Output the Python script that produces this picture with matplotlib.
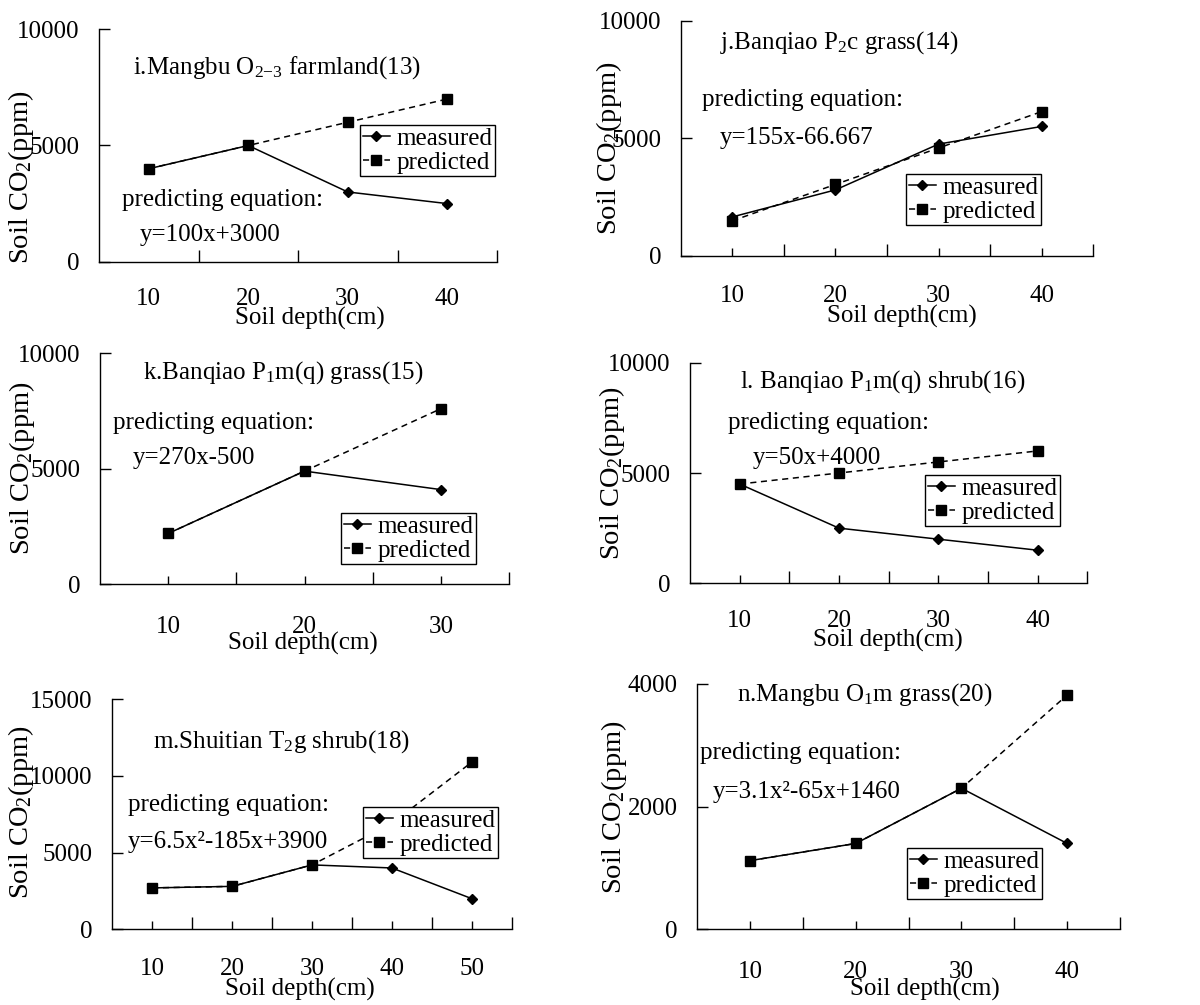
import matplotlib
matplotlib.use("Agg")
import matplotlib.pyplot as plt
from matplotlib.ticker import FixedLocator

plt.rcParams['font.family'] = ['Liberation Serif', 'DejaVu Serif']
plt.rcParams['mathtext.default'] = 'regular'

W, H = 1200, 1005

# data
depth_i = [10, 20, 30, 40]
meas_i = [4000, 5000, 3000, 2500]
pred_i = [4000, 5000, 6000, 7000]

depth_j = [10, 20, 30, 40]
meas_j = [1650, 2800, 4750, 5500]
pred_j = [1483, 3033, 4583, 6133]

depth_k = [10, 20, 30]
meas_k = [2200, 4900, 4100]
pred_k = [2200, 4900, 7600]

depth_l = [10, 20, 30, 40]
meas_l = [4500, 2500, 2000, 1500]
pred_l = [4500, 5000, 5500, 6000]

depth_m = [10, 20, 30, 40, 50]
meas_m = [2700, 2800, 4200, 4000, 2000]
pred_m = [2700, 2800, 4200, 6900, 10900]

depth_n = [10, 20, 30, 40]
meas_n = [1120, 1400, 2300, 1400]
pred_n = [1120, 1400, 2300, 3820]

FS = 18
FS_Y = 20.5

fig = plt.figure(figsize=(W / 100, H / 100), dpi=100)


def ftext(x, y, s, **kw):
    kw.setdefault('fontsize', FS)
    kw.setdefault('va', 'center')
    fig.text(x / W, 1 - y / H, s, **kw)


def panel(box, depth, meas, pred, ymax, ystep, title, tpos, eq, epos, leg,
          ylab, xlab, center_ticks=True, xpad=19):
    l, t, r, b = box
    ax = fig.add_axes([l / W, 1 - b / H, (r - l) / W, (b - t) / H])
    pos = list(range(1, len(depth) + 1))
    ax.plot(pos, meas, color='black', lw=1.1, marker='D', ms=4.8,
            label='measured', zorder=3)
    ax.plot(pos, pred, color='black', lw=1.1, ls=(0, (4, 3)), marker='s',
            ms=6.5, label='predicted', zorder=4)
    ax.set_xlim(0.5, len(depth) + 0.5)
    ax.set_ylim(0, ymax)
    ax.set_yticks(list(range(0, ymax + 1, ystep)))
    ax.set_xticks(pos)
    ax.set_xticklabels([str(d) for d in depth])
    ax.xaxis.set_minor_locator(FixedLocator([p + 0.5 for p in pos]))
    for s in ['top', 'right']:
        ax.spines[s].set_visible(False)
    for s in ['left', 'bottom']:
        ax.spines[s].set_linewidth(1.0)
    ax.tick_params(axis='y', direction='in', length=8, width=1, pad=14,
                   labelsize=FS)
    ax.tick_params(axis='x', which='major', direction='in',
                   length=6 if center_ticks else 0, width=1, pad=xpad,
                   labelsize=FS)
    ax.tick_params(axis='x', which='minor', direction='in', length=9,
                   width=1)
    ax.patch.set_alpha(0)
    ftext(tpos[0], tpos[1], title)
    ftext(epos[0], epos[1], 'predicting equation:')
    ftext(epos[2], epos[3], eq)
    lg = ax.legend(loc='upper left', bbox_to_anchor=(leg[0] / W, 1 - leg[1] / H),
                   bbox_transform=fig.transFigure, borderaxespad=0,
                   fontsize=FS, frameon=True, fancybox=False, framealpha=1,
                   edgecolor='black', handlelength=1.1, handletextpad=0.25,
                   borderpad=0.1, labelspacing=0.05)
    lg.get_frame().set_linewidth(1.0)
    lg.set_zorder(10)
    ftext(ylab[0], ylab[1], 'Soil CO$_2$(ppm)', rotation=90, ha='center',
          fontsize=FS_Y)
    ftext(xlab[0], xlab[1], 'Soil depth(cm)', ha='center')
    return ax


panel((99, 29.3, 497, 261.7), depth_i, meas_i, pred_i, 10000, 5000,
      'i.Mangbu O$_{2{-}3}$ farmland(13)', (133, 68),
      'y=100x+3000', (122, 200, 140, 235), (360, 125),
      (21, 177), (310, 318), center_ticks=False, xpad=19)

panel((680.7, 20.7, 1093.3, 255.7), depth_j, meas_j, pred_j, 10000, 5000,
      'j.Banqiao P$_2$c grass(14)', (720, 43),
      'y=155x-66.667', (702, 100, 720, 138), (906, 174),
      (609, 148), (902, 316), xpad=21)

panel((100, 353.3, 509, 584.3), depth_k, meas_k, pred_k, 10000, 5000,
      'k.Banqiao P$_1$m(q) grass(15)', (143, 373),
      'y=270x-500', (113, 423, 133, 458), (341, 513),
      (22, 468), (303, 643), xpad=23)

panel((690, 362.7, 1087.3, 583.3), depth_l, meas_l, pred_l, 10000, 5000,
      'l. Banqiao P$_1$m(q) shrub(16)', (740, 382),
      'y=50x+4000', (728, 423, 753, 458), (925, 475),
      (612, 473), (888, 640), xpad=19)

panel((112.3, 699.3, 511.7, 929.3), depth_m, meas_m, pred_m, 15000, 5000,
      'm.Shuitian T$_2$g shrub(18)', (153, 742),
      'y=6.5x²-185x+3900', (128, 805, 128, 842), (363, 807),
      (21, 812), (300, 989), xpad=21)

panel((697.3, 684, 1120, 929.3), depth_n, meas_n, pred_n, 4000, 2000,
      'n.Mangbu O$_1$m grass(20)', (737, 695),
      'y=3.1x²-65x+1460', (700, 753, 713, 792), (907, 848),
      (614, 807), (925, 989), xpad=23)

fig.savefig('out.png', dpi=100)
